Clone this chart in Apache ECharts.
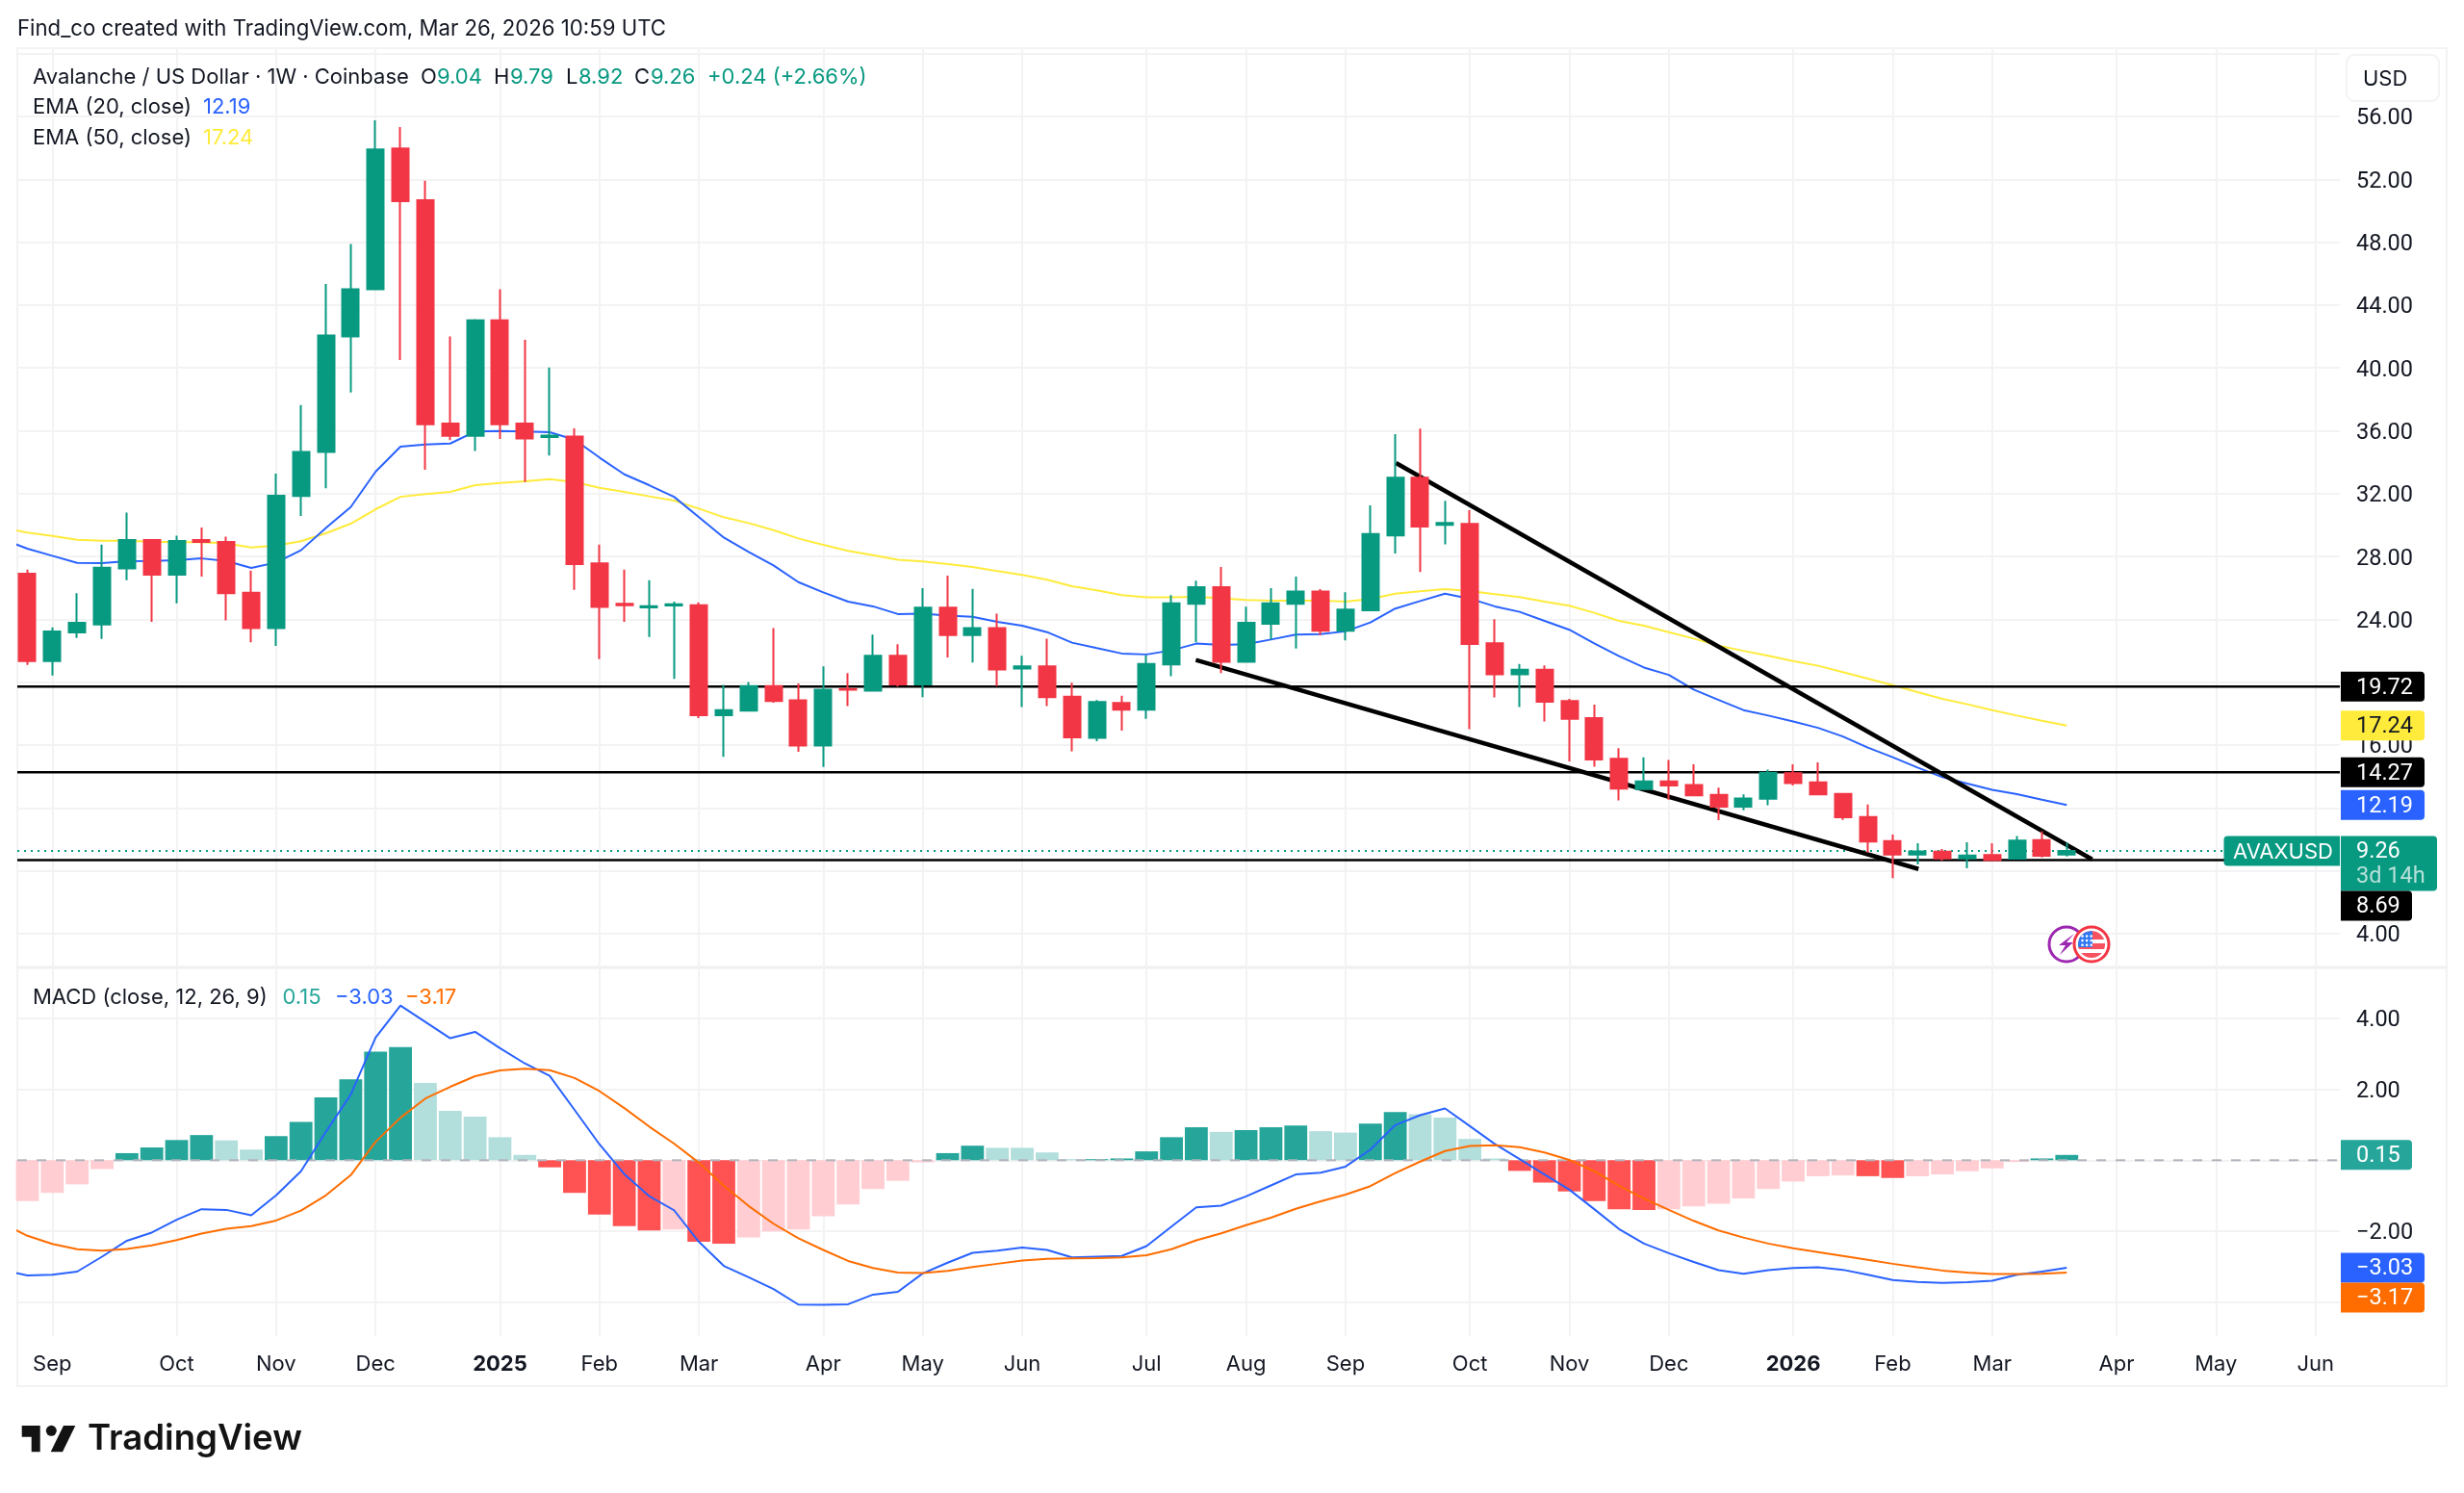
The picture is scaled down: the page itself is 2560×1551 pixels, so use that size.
<!DOCTYPE html>
<html>
<head>
<meta charset="utf-8">
<title>AVAXUSD weekly</title>
<style>html,body{margin:0;padding:0;background:#fff}#chart{width:2560px;height:1551px}</style>
<script src="https://cdn.jsdelivr.net/npm/echarts@6/dist/echarts.min.js"></script>
</head>
<body>
<div id="chart"></div>
<script>
// Weekly AVAX/USD candles, one entry per week.
const opens = [26.90,21.35,23.17,23.68,27.25,29.05,26.84,29.05,28.93,25.70,23.45,31.85,34.66,42.01,45.01,53.96,50.67,36.46,35.68,43.03,36.46,35.60,35.64,27.56,24.99,24.76,24.88,24.90,17.90,18.19,19.76,18.86,15.98,19.58,19.46,21.68,19.87,24.75,23.01,23.44,20.87,21.01,19.09,16.46,18.68,18.25,21.13,25.00,26.05,21.30,23.73,25.00,25.77,23.28,24.58,29.34,33.01,30.02,30.07,22.48,20.50,20.79,18.80,17.72,15.13,13.20,13.70,13.47,12.84,12.08,12.59,14.21,13.63,12.90,11.43,9.90,9.04,9.22,8.80,9.00,8.78,9.96,9.04];
const closes = [21.35,23.23,23.78,27.29,29.05,26.84,28.99,28.93,25.66,23.45,31.87,34.66,42.07,45.01,53.90,50.61,36.42,35.68,43.03,36.42,35.52,35.69,27.52,24.80,24.90,24.84,24.97,17.90,18.23,19.76,18.80,15.98,19.53,19.52,21.68,19.87,24.75,23.01,23.44,20.81,21.01,19.05,16.50,18.74,18.25,21.17,25.03,26.05,21.30,23.79,25.03,25.77,23.28,24.62,29.44,33.01,29.91,30.14,22.44,20.50,20.79,18.76,17.68,15.09,13.23,13.70,13.43,12.80,12.08,12.61,14.25,13.59,12.86,11.41,9.86,9.04,9.24,8.80,8.98,8.69,9.92,8.96,9.26];
const lows = [21.11,20.43,22.82,22.76,26.50,23.84,25.03,26.72,23.94,22.54,22.31,30.58,32.34,38.44,44.97,40.50,33.52,35.40,34.72,35.48,32.74,34.42,25.88,21.47,23.84,22.88,20.21,17.72,15.25,18.19,18.70,15.57,14.61,18.48,19.40,19.72,19.05,21.58,21.25,19.76,18.42,18.48,15.60,16.25,16.93,17.68,20.38,22.54,20.58,21.25,22.72,22.15,23.01,22.66,24.52,28.20,27.01,28.77,17.01,19.03,18.42,17.50,14.97,14.62,12.48,13.20,12.53,12.74,11.23,11.86,12.18,13.43,12.84,11.25,9.16,7.53,8.41,8.65,8.16,8.65,8.78,8.86,8.92];
const highs = [27.17,23.50,25.66,28.76,30.80,29.11,29.33,29.85,29.27,27.11,33.28,37.64,45.34,47.89,55.75,55.33,51.92,42.01,43.11,45.01,41.79,40.03,36.15,28.76,27.17,26.50,25.13,25.09,19.84,20.02,23.45,19.92,21.01,20.58,23.03,22.42,25.99,26.79,25.95,24.36,21.68,22.77,19.97,18.87,19.15,21.72,25.54,26.46,27.34,24.81,25.99,26.73,25.93,25.73,31.26,35.79,36.14,31.54,30.95,24.01,21.17,21.07,18.95,18.58,15.80,15.23,15.06,14.78,13.29,12.86,14.45,14.78,14.90,12.90,12.23,10.31,9.75,9.39,9.82,9.75,10.22,10.53,9.79];

// Moving averages of the close; the first entry is the week before the first visible candle.
const ema20 = [29.10,28.50,28.05,27.60,27.58,27.70,27.72,27.76,27.88,27.72,27.27,27.62,28.40,29.82,31.15,33.40,34.99,35.13,35.19,35.95,35.99,35.95,35.91,35.44,34.30,33.23,32.54,31.80,30.50,29.21,28.29,27.44,26.37,25.72,25.13,24.83,24.34,24.36,24.24,24.17,23.85,23.60,23.19,22.52,22.17,21.83,21.77,22.03,22.46,22.38,22.42,22.72,23.03,23.07,23.24,23.81,24.69,25.17,25.64,25.32,24.83,24.48,23.91,23.34,22.48,21.66,20.94,20.47,19.53,18.88,18.23,17.88,17.51,17.10,16.55,15.84,15.23,14.57,13.96,13.55,13.16,12.88,12.53,12.19];
const ema50 = [29.85,29.52,29.31,29.07,29.01,29.01,28.95,28.91,28.91,28.84,28.58,28.70,28.97,29.48,30.09,31.01,31.80,31.97,32.11,32.54,32.68,32.79,32.93,32.74,32.38,32.11,31.83,31.56,31.05,30.50,30.13,29.68,29.15,28.74,28.36,28.09,27.79,27.69,27.52,27.34,27.07,26.83,26.52,26.11,25.85,25.54,25.40,25.40,25.44,25.34,25.24,25.20,25.20,25.20,25.13,25.30,25.64,25.79,25.93,25.81,25.60,25.42,25.13,24.87,24.42,23.91,23.60,23.19,22.78,22.33,22.00,21.68,21.35,21.05,20.64,20.23,19.82,19.37,18.94,18.60,18.23,17.88,17.55,17.24];

// MACD (12, 26, 9) panel; both lines also start one week before the first candle.
const macdLine = [-3.10,-3.25,-3.23,-3.14,-2.72,-2.27,-2.04,-1.68,-1.38,-1.40,-1.55,-0.99,-0.31,0.80,1.85,3.46,4.36,3.90,3.44,3.62,3.16,2.73,2.38,1.42,0.45,-0.39,-1.01,-1.41,-2.30,-2.98,-3.30,-3.63,-4.07,-4.08,-4.06,-3.79,-3.71,-3.19,-2.89,-2.61,-2.55,-2.46,-2.53,-2.74,-2.72,-2.70,-2.42,-1.87,-1.33,-1.28,-1.02,-0.71,-0.40,-0.35,-0.18,0.30,0.99,1.27,1.46,0.96,0.46,0.03,-0.40,-0.83,-1.38,-1.94,-2.35,-2.62,-2.87,-3.10,-3.20,-3.10,-3.04,-3.02,-3.09,-3.23,-3.38,-3.43,-3.46,-3.44,-3.40,-3.23,-3.14,-3.03];
const signalLine = [-1.78,-2.13,-2.36,-2.51,-2.55,-2.50,-2.40,-2.25,-2.07,-1.93,-1.86,-1.70,-1.42,-0.99,-0.42,0.52,1.20,1.74,2.07,2.37,2.53,2.58,2.54,2.32,1.95,1.47,0.95,0.47,-0.07,-0.72,-1.29,-1.79,-2.20,-2.53,-2.84,-3.04,-3.17,-3.18,-3.12,-3.01,-2.92,-2.83,-2.78,-2.77,-2.76,-2.74,-2.68,-2.51,-2.26,-2.06,-1.83,-1.62,-1.37,-1.16,-0.97,-0.73,-0.36,-0.04,0.26,0.40,0.42,0.37,0.22,0.01,-0.31,-0.72,-1.08,-1.40,-1.71,-1.98,-2.18,-2.35,-2.48,-2.59,-2.70,-2.81,-2.92,-3.02,-3.11,-3.17,-3.21,-3.21,-3.20,-3.17];
const macdHist = [-1.15,-0.92,-0.68,-0.25,0.20,0.36,0.57,0.71,0.56,0.30,0.68,1.08,1.77,2.28,3.06,3.19,2.18,1.39,1.23,0.65,0.15,-0.20,-0.92,-1.53,-1.86,-1.98,-1.95,-2.30,-2.35,-2.18,-2.01,-1.95,-1.58,-1.25,-0.81,-0.58,-0.06,0.20,0.41,0.35,0.35,0.22,0.03,0.03,0.05,0.25,0.65,0.93,0.80,0.85,0.93,0.98,0.82,0.78,1.03,1.36,1.30,1.20,0.60,0.05,-0.30,-0.63,-0.88,-1.15,-1.38,-1.40,-1.38,-1.30,-1.23,-1.08,-0.81,-0.60,-0.45,-0.43,-0.45,-0.50,-0.45,-0.40,-0.31,-0.23,-0.05,0.05,0.15];
// Runs of weeks whose histogram bars are drawn pale (momentum fading).
const paleWeekRuns = [[0,3],[8,9],[16,20],[26,26],[29,36],[39,42],[48,48],[52,53],[56,59],[66,73],[76,80]];

// Month ticks along the time scale, as week numbers.
const monthTicks = [1,6,10,14,19,23,27,32,36,40,45,49,53,58,62,66,71,75,79,84,88,92];
const monthLabels = ['Sep','Oct','Nov','Dec','2025','Feb','Mar','Apr','May','Jun','Jul','Aug','Sep','Oct','Nov','Dec','2026','Feb','Mar','Apr','May','Jun'];

const priceGrid = [4,8,12,16,20,24,28,32,36,40,44,48,52,56,60];
const priceTickLabels = [4,8,12,16,20,24,28,32,36,40,44,48,52,56];
const macdTicks = [-4,-2,0,2,4];

// Horizontal levels and the two drawn trend lines.
const levels = [19.72,14.27,8.69];
const lastClose = 9.26;
const upperTrend = [[55.03,33.95],[83.02,8.73]];
const lowerTrend = [[46.98,21.42],[76.04,8.12]];

// Values tagged on the price and MACD scales.
const priceTagValues = [19.72,17.24,14.27,12.19,9.26,8.69];
const macdTagValues = [0.15,-3.03,-3.17];

const GREEN = '#089981', RED = '#f23645', INK = '#131722', GRID = '#f3f3f3';
const BLUE = '#2962ff', YELLOW = '#ffeb3b', ORANGE = '#ff6d00', TEAL = '#26a69a';
const FONT = 'Inter, "Noto Sans", sans-serif';
const NUMFONT = 'Roboto, Inter, sans-serif';
const XMIN = -0.406, XMAX = 92.98;

const weeks = closes.map((_, i) => i);
const fromWeekZero = arr => arr.map((v, i) => [i, v]);
const fromWeekBefore = arr => arr.map((v, i) => [i - 1, v]);
const candleData = weeks.map(i => [i, opens[i], closes[i], lows[i], highs[i]]);

const isPale = i => paleWeekRuns.some(r => i >= r[0] && i <= r[1]);
const histColor = i => {
  const up = macdHist[i] >= 0;
  return isPale(i) ? (up ? '#b2dfdb' : '#ffcdd2') : (up ? TEAL : '#ff5252');
};

// Value tags sitting on the right-hand scale; a tag that would collide moves below its neighbour.
const fmt = v => (v < 0 ? '\u2212' : '') + Math.abs(v).toFixed(2);
function tagRenderer(styleFor) {
  return function (params, api) {
    const idx = api.value(2);
    const val = api.value(1);
    const cs = params.coordSys;
    const st = styleFor(val);
    const cy = api.coord([api.value(0), val])[1];
    const text = fmt(val);
    const h = st.countdown ? 57 : 31;
    if (idx === 0) params.context.bottom = -1e9;
    const top = Math.max(cy - 15.5, params.context.bottom);
    params.context.bottom = top + h;
    const left = cs.x + cs.width + 1;
    const width = st.countdown ? 100 : (text.length > 4 ? 87 : 74);
    const numFont = '23.5px ' + NUMFONT;
    const kids = [
      { type: 'rect', shape: { x: left, y: top, width, height: h, r: [0, 4, 4, 0] }, style: { fill: st.bg } },
      { type: 'text', style: { text, x: left + 16, y: top + 17, fill: st.fg, font: numFont, textVerticalAlign: 'middle' } }
    ];
    if (st.countdown) {
      kids.push({ type: 'rect', shape: { x: left - 121.5, y: top, width: 120.5, height: 31, r: [4, 0, 0, 4] }, style: { fill: st.bg } });
      kids.push({ type: 'text', style: { text: 'AVAXUSD', x: left - 112, y: top + 17, fill: '#fff', font: '22px ' + FONT, textVerticalAlign: 'middle' } });
      kids.push({ type: 'text', style: { text: st.countdown, x: left + 16, y: top + 43, fill: 'rgba(255,255,255,0.7)', font: numFont, textVerticalAlign: 'middle' } });
    }
    return { type: 'group', children: kids };
  };
}
const priceTagStyle = v => {
  if (v === 17.24) return { bg: YELLOW, fg: INK };
  if (v === 12.19) return { bg: BLUE, fg: '#fff' };
  if (v === lastClose) return { bg: GREEN, fg: '#fff', countdown: '3d 14h' };
  return { bg: '#000', fg: '#fff' };
};
const macdTagStyle = v => v === 0.15 ? { bg: TEAL, fg: '#fff' } : v === -3.03 ? { bg: BLUE, fg: '#fff' } : { bg: ORANGE, fg: '#fff' };

const lineSeries = (name, data, color, width, xi, z, extra) => Object.assign({
  name, type: 'line', data, xAxisIndex: xi, yAxisIndex: xi, showSymbol: false, symbol: 'none', smooth: false,
  lineStyle: { color, width }, z, silent: true, animation: false
}, extra || {});

const xAxisBase = {
  type: 'value', min: XMIN, max: XMAX, axisLine: { show: false },
  axisTick: { show: false, customValues: monthTicks },
  splitLine: { show: true, lineStyle: { color: GRID, width: 2 } }
};
const yAxisBase = {
  type: 'value', position: 'right', axisLine: { show: false }, axisTick: { show: false },
  splitLine: { show: true, lineStyle: { color: GRID, width: 2 } }
};
// Scale labels use a rich style so the digits can sit centred on their grid line.
const yLabel = values => ({
  customValues: values, margin: 17, color: INK, fontFamily: NUMFONT, fontSize: 23.5,
  formatter: v => '{v|' + fmt(v) + '}',
  rich: { v: { padding: [5, 0, 0, 0], fontSize: 23.5, color: INK, fontFamily: NUMFONT } }
});

const txt = (text, x, y, fill, size, weight, align) => ({
  type: 'text', z: 60, silent: true,
  style: { text, x, y, fill, font: (weight || 400) + ' ' + (size || 22.2) + 'px ' + FONT, textVerticalAlign: 'middle', textAlign: align || 'left' }
});

// US flag badge, built from bands of a circle.
function band(cx, cy, r, y1, y2, xMax) {
  const n = 14, left = [], right = [];
  for (let k = 0; k <= n; k++) {
    const y = y1 + (y2 - y1) * k / n;
    const w = Math.sqrt(Math.max(0, r * r - y * y));
    left.push([cx - w, cy + y]);
    right.push([cx + Math.min(w, xMax === undefined ? w : xMax), cy + y]);
  }
  return left.concat(right.reverse());
}
function flagBadge(cx, cy) {
  const out = [
    { type: 'circle', z: 61, shape: { cx, cy, r: 18 }, style: { fill: '#fff', stroke: RED, lineWidth: 3 } },
    { type: 'polygon', z: 62, shape: { points: band(cx, cy, 14, -14, -5) }, style: { fill: '#f7525f' } },
    { type: 'polygon', z: 62, shape: { points: band(cx, cy, 14, -1, 5) }, style: { fill: '#f7525f' } },
    { type: 'polygon', z: 62, shape: { points: band(cx, cy, 14, 9, 14) }, style: { fill: '#f7525f' } },
    { type: 'polygon', z: 63, shape: { points: band(cx, cy, 14, -14, 3, 1) }, style: { fill: '#3179f5' } }
  ];
  for (let a = 0; a < 3; a++) for (let b = 0; b < 3; b++) {
    out.push({ type: 'circle', z: 64, shape: { cx: cx - 9.5 + a * 4.6, cy: cy - 8.5 + b * 4.6, r: 1.3 }, style: { fill: '#fff' } });
  }
  return out;
}
function boltBadge(cx, cy) {
  return [
    { type: 'circle', z: 60, shape: { cx, cy, r: 18 }, style: { fill: '#fff', stroke: '#9c27b0', lineWidth: 3 } },
    { type: 'polygon', z: 60, shape: { points: [[cx + 8, cy - 11], [cx - 8, cy + 1], [cx - 1, cy + 1], [cx - 7, cy + 11], [cx + 7, cy - 2], [cx, cy - 2]] }, style: { fill: '#9c27b0' } }
  ];
}

const graphics = [
  // panel frame and the divider between the panes
  { type: 'rect', z: 0, shape: { x: 18, y: 50, width: 2524, height: 1390 }, style: { fill: 'none', stroke: GRID, lineWidth: 2 } },
  { type: 'line', z: 0, shape: { x1: 18, y1: 1005, x2: 2542, y2: 1005 }, style: { stroke: '#f0f0f0', lineWidth: 3 } },
  // currency button
  { type: 'rect', z: 55, shape: { x: 2438, y: 57, width: 96, height: 48, r: 8 }, style: { fill: '#fff', stroke: '#f3f3f3', lineWidth: 2 } },
  txt('USD', 2455, 82, INK, 22),

  txt('Find_co created with TradingView.com, Mar 26, 2026 10:59 UTC', 18, 30, INK),
  txt('Avalanche / US Dollar \u00b7 1W \u00b7 Coinbase', 34, 80.5, INK, 22),
  txt('O', 437, 80.5, INK, 22), txt('9.04', 454, 80.5, GREEN, 22),
  txt('H', 513, 80.5, INK, 22), txt('9.79', 530, 80.5, GREEN, 22),
  txt('L', 588, 80.5, INK, 22), txt('8.92', 601, 80.5, GREEN, 22),
  txt('C', 659, 80.5, INK, 22), txt('9.26', 676, 80.5, GREEN, 22),
  txt('+0.24 (+2.66%)', 735, 80.5, GREEN, 22),
  txt('EMA (20, close)', 34, 111, INK, 22), txt('12.19', 211, 111, BLUE, 22),
  txt('EMA (50, close)', 34, 143, INK, 22), txt('17.24', 211, 143, YELLOW, 22),
  txt('MACD (close, 12, 26, 9)', 34, 1036.5, INK, 22),
  txt('0.15', 293.5, 1036.5, TEAL, 22), txt('\u22123.03', 348, 1036.5, BLUE, 22), txt('\u22123.17', 421, 1036.5, ORANGE, 22),

  // wordmark
  { type: 'polygon', z: 60, shape: { points: [[22.7,1481],[41.7,1481],[41.7,1508.3],[32.7,1508.3],[32.7,1492.7],[22.7,1492.7]] }, style: { fill: '#131313' } },
  { type: 'circle', z: 60, shape: { cx: 53.3, cy: 1486.3, r: 5.5 }, style: { fill: '#131313' } },
  { type: 'polygon', z: 60, shape: { points: [[78.3,1481],[66,1481],[52.7,1508.3],[65,1508.3]] }, style: { fill: '#131313' } },
  txt('TradingView', 91, 1495, '#131313', 36.6, 600)
].concat(boltBadge(2147, 981), flagBadge(2173, 981));

const option = {
  backgroundColor: '#fff',
  animation: false,
  textStyle: { fontFamily: FONT },
  grid: [
    { left: 18, width: 2413, top: 50, height: 955 },
    { left: 18, width: 2413, top: 1005, height: 383 }
  ],
  xAxis: [
    Object.assign({}, xAxisBase, { gridIndex: 0, axisLabel: { show: false } }),
    Object.assign({}, xAxisBase, {
      gridIndex: 1,
      axisLabel: {
        show: true, customValues: monthTicks, margin: 18, fontSize: 22, color: INK, fontFamily: FONT,
        formatter: v => {
          const t = monthLabels[monthTicks.indexOf(Math.round(v))] || '';
          return /^\d/.test(t) ? '{b|' + t + '}' : t;
        },
        rich: { b: { fontWeight: 700, fontSize: 22, color: INK, fontFamily: FONT } }
      }
    })
  ],
  yAxis: [
    Object.assign({}, yAxisBase, {
      gridIndex: 0, min: 1.856, max: 60.35,
      axisTick: { show: false, customValues: priceGrid },
      axisLabel: yLabel(priceTickLabels)
    }),
    Object.assign({}, yAxisBase, {
      gridIndex: 1, min: -4.959, max: 5.437,
      axisTick: { show: false, customValues: macdTicks },
      axisLabel: yLabel(macdTicks)
    })
  ],
  graphic: { elements: graphics },
  series: [
    lineSeries('EMA 50', fromWeekBefore(ema50), YELLOW, 2, 0, 2),
    lineSeries('EMA 20', fromWeekBefore(ema20), BLUE, 2, 0, 2),
    ...levels.map(v => lineSeries('level ' + v, [[XMIN, v], [XMAX, v]], '#000', 2.5, 0, 3)),
    lineSeries('last', [[XMIN, lastClose], [XMAX, lastClose]], GREEN, 2, 0, 3, { lineStyle: { color: GREEN, width: 2, type: [2, 5] } }),
    lineSeries('upper trend', upperTrend, '#000', 4.5, 0, 3),
    lineSeries('lower trend', lowerTrend, '#000', 4.5, 0, 3),
    {
      name: 'AVAXUSD', type: 'candlestick', xAxisIndex: 0, yAxisIndex: 0, z: 4, silent: true, animation: false,
      barWidth: 17.5, data: candleData,
      encode: { x: 0, y: [1, 2, 3, 4] },
      itemStyle: { color: GREEN, color0: RED, borderColor: GREEN, borderColor0: RED, borderColorDoji: GREEN, borderWidth: 2 }
    },
    {
      name: 'histogram', type: 'bar', xAxisIndex: 1, yAxisIndex: 1, z: 2, silent: true, animation: false,
      barWidth: 23.8,
      data: fromWeekZero(macdHist).map((d, i) => ({ value: d, itemStyle: { color: histColor(i) } }))
    },
    lineSeries('zero', [[XMIN, 0], [XMAX, 0]], '#b2b5be', 2, 1, 3, { lineStyle: { color: '#b2b5be', width: 2, type: [10, 10] } }),
    lineSeries('MACD', fromWeekBefore(macdLine), BLUE, 2, 1, 4),
    lineSeries('Signal', fromWeekBefore(signalLine), ORANGE, 2, 1, 4),
    {
      type: 'custom', name: 'price tags', xAxisIndex: 0, yAxisIndex: 0, z: 50, silent: true, animation: false, clip: false,
      data: priceTagValues.map((v, i) => [82, v, i]), encode: { x: 0, y: 1 }, renderItem: tagRenderer(priceTagStyle)
    },
    {
      type: 'custom', name: 'macd tags', xAxisIndex: 1, yAxisIndex: 1, z: 50, silent: true, animation: false, clip: false,
      data: macdTagValues.map((v, i) => [82, v, i]), encode: { x: 0, y: 1 }, renderItem: tagRenderer(macdTagStyle)
    }
  ]
};
const chart = echarts.init(document.getElementById('chart'), null, { renderer: 'canvas', width: 2560, height: 1551 });
chart.setOption(option);
</script>
</body>
</html>
